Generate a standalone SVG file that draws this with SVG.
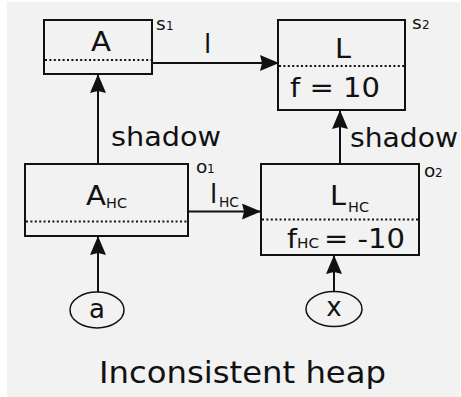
<svg xmlns="http://www.w3.org/2000/svg" width="461" height="397" viewBox="0 0 461 397">
  <defs>
    <marker id="arrow" markerUnits="userSpaceOnUse" markerWidth="22" markerHeight="18" refX="19" refY="8" orient="auto">
      <path d="M0,0 L19,8 L0,16 L2,8 z" fill="#111"/>
    </marker>
    <style>
      text { font-family: "DejaVu Sans", "Liberation Sans", sans-serif; fill: #111; }
      .box { fill: none; stroke: #111; stroke-width: 2; }
      .dot { stroke: #111; stroke-width: 2; stroke-dasharray: 2 2.4; }
      .edge { fill: none; stroke: #111; stroke-width: 2; marker-end: url(#arrow); }
      .root { fill: none; stroke: #111; stroke-width: 1.5; }
      .big { font-size: 26px; }
      .sub { font-size: 14px; }
      .tag { font-size: 18.5px; }
      .idx { font-size: 12px; }
    </style>
  </defs>

  <rect x="7" y="2" width="453" height="395" fill="#f2f2f2"/>

  <!-- shadow object s1 -->
  <g id="node-A">
    <rect class="box" x="44" y="20" width="108" height="54"/>
    <line class="dot" x1="45" y1="60" x2="151" y2="60"/>
    <text class="big" x="91" y="51" textLength="20" lengthAdjust="spacingAndGlyphs">A</text>
    <text class="tag" x="156" y="30">s</text>
    <text class="idx" x="166" y="30">1</text>
  </g>

  <!-- shadow object s2 -->
  <g id="node-L">
    <rect class="box" x="278" y="20" width="127" height="90"/>
    <line class="dot" x1="279" y1="66" x2="404" y2="66"/>
    <text class="big" x="335" y="58" textLength="16" lengthAdjust="spacingAndGlyphs">L</text>
    <text class="big" x="290" y="97" textLength="90" lengthAdjust="spacingAndGlyphs">f = 10</text>
    <text class="tag" x="412" y="29">s</text>
    <text class="idx" x="422" y="29">2</text>
  </g>

  <!-- heap object o1 -->
  <g id="node-AHC">
    <rect class="box" x="25" y="164" width="163" height="72"/>
    <line class="dot" x1="26" y1="221.5" x2="187" y2="221.5"/>
    <text class="big" x="86" y="205" textLength="20" lengthAdjust="spacingAndGlyphs">A</text>
    <text class="sub" x="106" y="208" textLength="21" lengthAdjust="spacingAndGlyphs">HC</text>
    <text class="tag" x="196" y="173">o</text>
    <text class="idx" x="207" y="173">1</text>
  </g>

  <!-- heap object o2 -->
  <g id="node-LHC">
    <rect class="box" x="261" y="164" width="158" height="91"/>
    <line class="dot" x1="262" y1="219.5" x2="418" y2="219.5"/>
    <text class="big" x="330" y="205" textLength="16" lengthAdjust="spacingAndGlyphs">L</text>
    <text class="sub" x="348" y="212" textLength="21" lengthAdjust="spacingAndGlyphs">HC</text>
    <text class="big" x="287" y="248" textLength="10" lengthAdjust="spacingAndGlyphs">f</text>
    <text class="sub" x="297" y="248" textLength="22" lengthAdjust="spacingAndGlyphs">HC</text>
    <text class="big" x="324" y="248" textLength="81" lengthAdjust="spacingAndGlyphs">= -10</text>
    <text class="tag" x="424" y="177">o</text>
    <text class="idx" x="435" y="177">2</text>
  </g>

  <!-- roots -->
  <g id="root-a">
    <ellipse class="root" cx="97" cy="310" rx="27" ry="18"/>
    <text class="big" x="97" y="318" text-anchor="middle">a</text>
  </g>
  <g id="root-x">
    <ellipse class="root" cx="334" cy="309" rx="28" ry="17.5"/>
    <text class="big" x="334" y="316" text-anchor="middle">x</text>
  </g>

  <!-- connectors -->
  <g id="edges">
    <line class="edge" x1="152" y1="63" x2="279" y2="63"/>
    <text class="big" x="204" y="53">l</text>

    <line class="edge" x1="188" y1="211.5" x2="261" y2="211.5"/>
    <text class="big" x="210" y="203">l</text>
    <text class="sub" x="219" y="207" textLength="20" lengthAdjust="spacingAndGlyphs">HC</text>

    <line class="edge" x1="98" y1="164" x2="98" y2="74"/>
    <text class="big" x="111" y="146" textLength="110" lengthAdjust="spacingAndGlyphs">shadow</text>

    <line class="edge" x1="340" y1="164" x2="340" y2="110"/>
    <text class="big" x="350" y="147" textLength="108" lengthAdjust="spacingAndGlyphs">shadow</text>

    <line class="edge" x1="98" y1="292" x2="98" y2="236"/>
    <line class="edge" x1="334" y1="291.5" x2="334" y2="255"/>
  </g>

  <text x="99" y="383" font-size="30" textLength="287" lengthAdjust="spacingAndGlyphs">Inconsistent heap</text>
</svg>
